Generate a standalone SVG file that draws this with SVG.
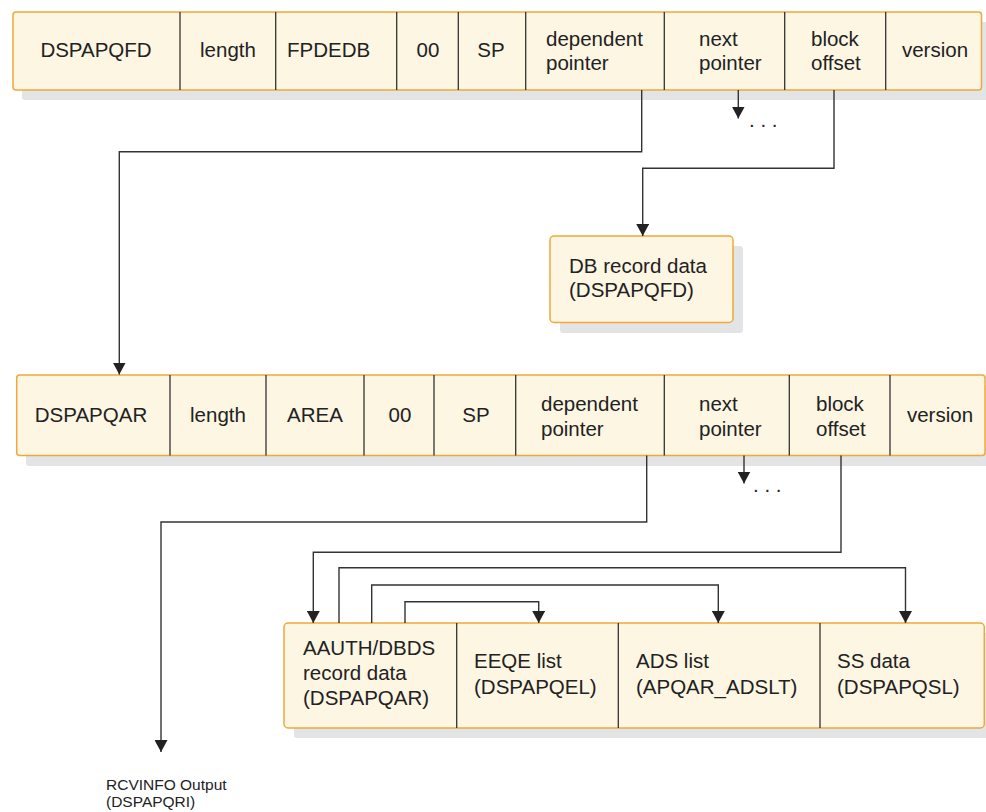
<svg xmlns="http://www.w3.org/2000/svg" width="986" height="812" viewBox="0 0 986 812">
<style>
.box{fill:#fdf6e3;stroke:#f0a83a;stroke-width:1.5}
.sh{fill:#e3e4e6}
.div{stroke:#333;stroke-width:1.3}
.t{font-family:"Liberation Sans",Arial,sans-serif;font-size:20.5px;fill:#222}
.c{text-anchor:middle}
.s{font-size:15.5px}
.ln{fill:none;stroke:#333;stroke-width:1.4}
</style>
<defs>
<marker id="ah" viewBox="0 0 12 13" refX="12" refY="6.5" markerWidth="12" markerHeight="13" markerUnits="userSpaceOnUse" orient="auto">
<path d="M0,0 L12,6.5 L0,13 z" fill="#222"/>
</marker>
</defs>
<rect width="986" height="812" fill="#fff"/>

<g id="row1">
<rect class="sh" x="22" y="22" width="969" height="78" rx="3"/>
<rect class="box" x="13" y="12" width="968.5" height="78" rx="3"/>
<line class="div" x1="180" y1="12" x2="180" y2="90"/>
<line class="div" x1="275.7" y1="12" x2="275.7" y2="90"/>
<line class="div" x1="396.7" y1="12" x2="396.7" y2="90"/>
<line class="div" x1="458.3" y1="12" x2="458.3" y2="90"/>
<line class="div" x1="525.7" y1="12" x2="525.7" y2="90"/>
<line class="div" x1="664.3" y1="12" x2="664.3" y2="90"/>
<line class="div" x1="784.7" y1="12" x2="784.7" y2="90"/>
<line class="div" x1="885.7" y1="12" x2="885.7" y2="90"/>
<text class="t c" x="96" y="57">DSPAPQFD</text>
<text class="t c" x="228" y="57">length</text>
<text class="t" x="287" y="57">FPDEDB</text>
<text class="t c" x="428" y="57">00</text>
<text class="t c" x="491" y="57">SP</text>
<text class="t" x="546" y="46">dependent</text>
<text class="t" x="546" y="70">pointer</text>
<text class="t" x="699" y="46">next</text>
<text class="t" x="699" y="70">pointer</text>
<text class="t" x="811" y="46">block</text>
<text class="t" x="811" y="70">offset</text>
<text class="t c" x="935" y="57">version</text>
</g>

<g id="dbrec">
<rect class="sh" x="560" y="246" width="183" height="87" rx="3"/>
<rect class="box" x="550" y="236" width="183" height="86.5" rx="4"/>
<text class="t" x="569" y="273">DB record data</text>
<text class="t" x="569" y="297">(DSPAPQFD)</text>
</g>

<g id="row2">
<rect class="sh" x="26" y="385" width="969" height="81" rx="3"/>
<rect class="box" x="16.7" y="375" width="968.3" height="80.5" rx="3"/>
<line class="div" x1="170" y1="375" x2="170" y2="455.5"/>
<line class="div" x1="266" y1="375" x2="266" y2="455.5"/>
<line class="div" x1="364" y1="375" x2="364" y2="455.5"/>
<line class="div" x1="434" y1="375" x2="434" y2="455.5"/>
<line class="div" x1="515.7" y1="375" x2="515.7" y2="455.5"/>
<line class="div" x1="664.3" y1="375" x2="664.3" y2="455.5"/>
<line class="div" x1="789.3" y1="375" x2="789.3" y2="455.5"/>
<line class="div" x1="890" y1="375" x2="890" y2="455.5"/>
<text class="t c" x="91" y="422">DSPAPQAR</text>
<text class="t c" x="218" y="422">length</text>
<text class="t c" x="315" y="422">AREA</text>
<text class="t c" x="400" y="422">00</text>
<text class="t c" x="476" y="422">SP</text>
<text class="t" x="541" y="411">dependent</text>
<text class="t" x="541" y="436">pointer</text>
<text class="t" x="699" y="411">next</text>
<text class="t" x="699" y="436">pointer</text>
<text class="t" x="816" y="411">block</text>
<text class="t" x="816" y="436">offset</text>
<text class="t c" x="940" y="422">version</text>
</g>

<g id="row3">
<rect class="sh" x="294" y="633" width="700" height="105" rx="3"/>
<rect class="box" x="284" y="623" width="700.3" height="105" rx="4"/>
<line class="div" x1="456.7" y1="623" x2="456.7" y2="728"/>
<line class="div" x1="618.3" y1="623" x2="618.3" y2="728"/>
<line class="div" x1="820" y1="623" x2="820" y2="728"/>
<text class="t" x="303" y="655">AAUTH/DBDS</text>
<text class="t" x="303" y="680">record data</text>
<text class="t" x="303" y="705">(DSPAPQAR)</text>
<text class="t" x="474" y="668">EEQE list</text>
<text class="t" x="474" y="694">(DSPAPQEL)</text>
<text class="t" x="636" y="668">ADS list</text>
<text class="t" x="636" y="694">(APQAR_ADSLT)</text>
<text class="t" x="837" y="668">SS data</text>
<text class="t" x="837" y="694">(DSPAPQSL)</text>
</g>

<g id="rcvinfo">
<text class="t s" x="106" y="790">RCVINFO Output</text>
<text class="t s" x="106" y="807">(DSPAPQRI)</text>
</g>

<g id="connectors">
<path class="ln" d="M641.7,90 V151.7 H119.3 V374.5" marker-end="url(#ah)"/>
<path class="ln" d="M738.3,90 V118.5" marker-end="url(#ah)"/>
<path class="ln" d="M834,90 V168.3 H642.7 V236" marker-end="url(#ah)"/>
<path class="ln" d="M646.7,455.5 V522 H161 V752" marker-end="url(#ah)"/>
<path class="ln" d="M744,455.5 V483.5" marker-end="url(#ah)"/>
<path class="ln" d="M841,455.5 V552.3 H313.3 V623" marker-end="url(#ah)"/>
<path class="ln" d="M339,623 V567.7 H905.5 V623" marker-end="url(#ah)"/>
<path class="ln" d="M371.7,623 V585 H718.3 V623" marker-end="url(#ah)"/>
<path class="ln" d="M405,623 V601.7 H538.7 V623" marker-end="url(#ah)"/>
<text class="t" x="749" y="127">. . .</text>
<text class="t" x="753" y="492">. . .</text>
</g>
</svg>
